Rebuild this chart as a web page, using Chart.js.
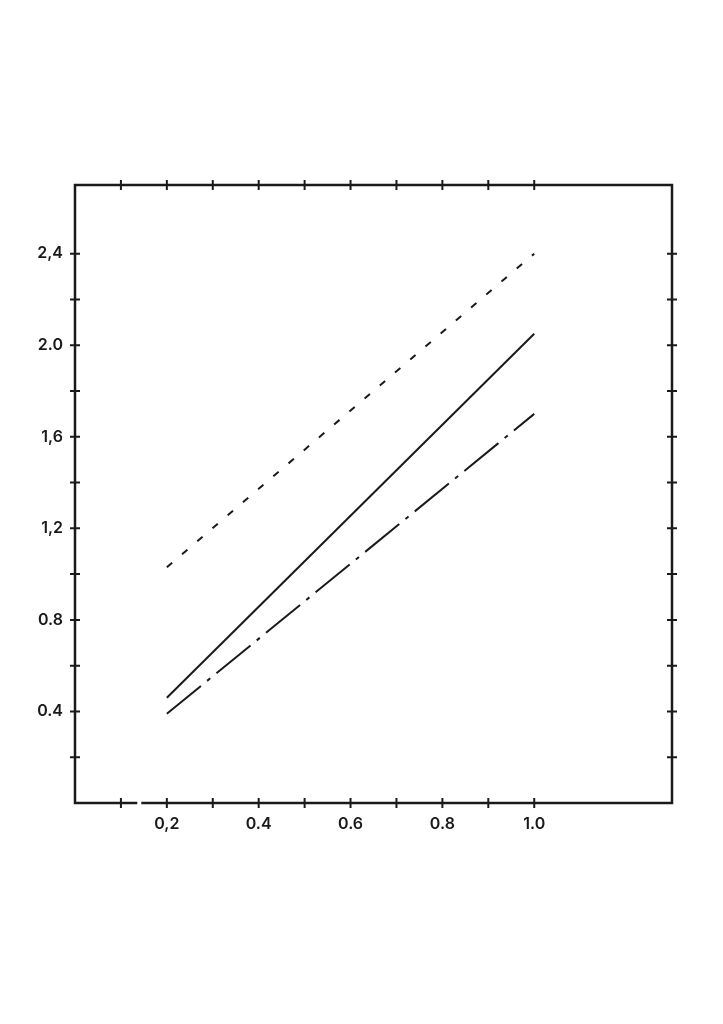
<!DOCTYPE html>
<html>
<head>
<meta charset="utf-8">
<script src="https://cdn.jsdelivr.net/npm/chart.js@4"></script>
<style>
  html, body { margin: 0; padding: 0; background: #fff; }
  #wrap { width: 723px; height: 1024px; }
</style>
</head>
<body>
<div id="wrap"><canvas id="chart" width="723" height="1024"></canvas></div>
<script>
// x positions of the line ends
const xValues = [0.2, 1.0];
// three lines
const dashedLine = [1.03, 2.40];
const solidLine = [0.46, 2.05];
const dashDotLine = [0.39, 1.70];

// tick labels as written on the plot
const xLabels = { 0.2: "0,2", 0.4: "0.4", 0.6: "0.6", 0.8: "0.8", 1.0: "1.0" };
const yLabels = { 0.4: "0.4", 0.8: "0.8", 1.2: "1,2", 1.6: "1,6", 2.0: "2.0", 2.4: "2,4" };
// tick mark positions on the frame
const xTicks = [0.1, 0.2, 0.3, 0.4, 0.5, 0.6, 0.7, 0.8, 0.9, 1.0];
const yTicks = [0.2, 0.4, 0.6, 0.8, 1.0, 1.2, 1.4, 1.6, 1.8, 2.0, 2.2, 2.4];

const ink = "#1a1a1a";
const labelFont = { family: "Inter", size: 16, weight: "600" };

function pts(ys) {
  return xValues.map((x, i) => ({ x: x, y: ys[i] }));
}

//--------------------------------------------------------
// frame with crossing tick marks on all four sides
const framePlugin = {
  id: "frame",
  afterDatasetsDraw(chart) {
    const ctx = chart.ctx;
    const a = chart.chartArea;
    const xs = chart.scales.x;
    const ys = chart.scales.y;
    ctx.save();
    ctx.strokeStyle = ink;
    ctx.lineWidth = 2.5;
    ctx.lineCap = "square";
    ctx.strokeRect(a.left, a.top, a.right - a.left, a.bottom - a.top);

    // little break in the bottom axis between 0.1 and 0.2
    const gx = xs.getPixelForValue(0.14);
    ctx.fillStyle = "#fff";
    ctx.fillRect(gx - 2, a.bottom - 3, 4, 6);

    ctx.lineWidth = 2;
    ctx.lineCap = "butt";
    const t = 5;
    xTicks.forEach((v) => {
      const px = xs.getPixelForValue(v);
      ctx.beginPath();
      ctx.moveTo(px, a.bottom - t);
      ctx.lineTo(px, a.bottom + t);
      ctx.moveTo(px, a.top - t);
      ctx.lineTo(px, a.top + t);
      ctx.stroke();
    });
    yTicks.forEach((v) => {
      const py = ys.getPixelForValue(v);
      ctx.beginPath();
      ctx.moveTo(a.left - t, py);
      ctx.lineTo(a.left + t, py);
      ctx.moveTo(a.right - t, py);
      ctx.lineTo(a.right + t, py);
      ctx.stroke();
    });
    ctx.restore();
  },
};

const lineStyle = {
  borderColor: ink,
  borderWidth: 2,
  pointRadius: 0,
  fill: false,
  tension: 0,
};

const ctx = document.getElementById("chart");
const chart = new Chart(ctx, {
  type: "line",
  data: {
    datasets: [
      Object.assign({ label: "dashed", data: pts(dashedLine), borderDash: [7, 13] }, lineStyle),
      Object.assign({ label: "solid", data: pts(solidLine) }, lineStyle),
      Object.assign({ label: "dashdot", data: pts(dashDotLine), borderDash: [44, 8, 4, 8] }, lineStyle),
    ],
  },
  options: {
    responsive: false,
    animation: false,
    layout: { padding: { top: 185, right: 51, left: 0, bottom: 0 } },
    plugins: { legend: { display: false }, tooltip: { enabled: false } },
    scales: {
      x: {
        type: "linear",
        min: 0,
        max: 1.3,
        grid: { display: false, drawTicks: false },
        border: { display: false },
        afterFit: (s) => { s.height = 221; },
        ticks: {
          stepSize: 0.1,
          autoSkip: false,
          maxRotation: 0,
          padding: 12,
          color: ink,
          font: labelFont,
          callback: (v) => xLabels[Math.round(v * 10) / 10] || "",
        },
      },
      y: {
        type: "linear",
        min: 0,
        max: 2.7,
        grid: { display: false, drawTicks: false },
        border: { display: false },
        afterFit: (s) => { s.width = 75; },
        ticks: {
          stepSize: 0.1,
          autoSkip: false,
          padding: 12,
          color: ink,
          font: labelFont,
          callback: (v) => yLabels[Math.round(v * 10) / 10] || "",
        },
      },
    },
  },
  plugins: [framePlugin],
});
</script>
</body>
</html>
